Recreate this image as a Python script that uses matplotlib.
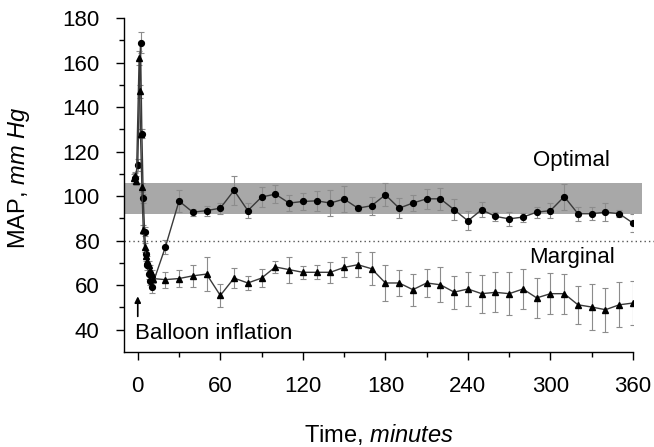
import matplotlib
matplotlib.use("Agg")
import matplotlib.pyplot as plt
from matplotlib.patches import Rectangle

plt.rcParams['font.family'] = ['Liberation Sans', 'DejaVu Sans']
plt.rcParams['mathtext.fontset'] = 'custom'
plt.rcParams['mathtext.rm'] = 'Liberation Sans'
plt.rcParams['mathtext.it'] = 'Liberation Sans:italic'

# ---- data ----
opt_time = [-2, 0, 2, 3, 4, 5, 6, 7, 8, 9, 10,
            20, 30, 40, 50, 60, 70, 80, 90, 100, 110, 120, 130, 140, 150, 160, 170,
            180, 190, 200, 210, 220, 230, 240, 250, 260, 270, 280, 290, 300, 310,
            320, 330, 340, 350, 360]
opt_map = [108, 114, 169, 128, 99, 84, 74, 69, 65, 62, 59,
           77, 97.8, 92.8, 93.5, 94.6, 102.6, 93.5, 99.6, 100.9, 96.9, 97.6, 97.9,
           96.9, 98.7, 94.6, 95.7, 100.6, 94.6, 96.9, 98.8, 98.8, 93.9, 88.9, 93.9,
           90.9, 89.8, 90.6, 92.8, 93.5, 99.8, 92.1, 92.1, 92.8, 92.1, 87.9]
opt_err = [2.5, 2.5, 4.6, 2, 2, 2, 2, 2, 2, 2, 2.5,
           3.2, 5.0, 1.5, 2.2, 2.5, 6.6, 3.4, 4.3, 3.9, 3.6, 4.0, 4.5, 5.7, 5.7,
           1.3, 4.1, 5.2, 4.5, 3.7, 4.5, 4.9, 4.6, 4.3, 3.3, 2.2, 3.1, 2.0, 2.5,
           3.3, 5.8, 3.2, 3.0, 4.0, 1.5, 4.1]

mar_time = [-3, -2, -1, 1, 1.5, 2, 3, 4, 5, 6, 7, 8, 9, 10, 11,
            20, 30, 40, 50, 60, 70, 80, 90, 100, 110, 120, 130, 140, 150, 160, 170,
            180, 190, 200, 210, 220, 230, 240, 250, 260, 270, 280, 290, 300, 310,
            320, 330, 340, 350, 360]
mar_map = [108, 109, 107, 162, 147, 128, 104, 85, 77, 73, 71, 69, 67, 65, 63,
           62.5, 63.0, 64.2, 65.0, 55.4, 63.2, 61.0, 63.2, 68.2, 67.0, 65.8, 65.8,
           65.8, 68.0, 69.2, 67.4, 61.0, 61.0, 58.0, 61.0, 60.2, 56.9, 58.3, 56.2,
           56.8, 56.2, 58.3, 54.3, 56.2, 56.2, 51.2, 50.2, 49.0, 51.2, 52.0]
mar_err = [2, 2, 2, 3, 3, 2, 2, 2, 2, 2, 2, 2, 2, 2, 2,
           3.6, 3.7, 5.0, 7.6, 5.0, 4.5, 3.0, 4.0, 2.6, 5.8, 3.0, 3.1, 4.7, 4.5,
           5.5, 7.5, 8.2, 5.7, 7.2, 6.1, 7.8, 7.4, 7.6, 8.5, 9.0, 9.6, 9.2, 9.0,
           9.1, 9.0, 8.4, 10.2, 9.9, 10.1, 10.0]

x_ticks = [0, 60, 120, 180, 240, 300, 360]
y_ticks = [40, 60, 80, 100, 120, 140, 160, 180]
BAND_LOW, BAND_HIGH = 92, 106
BAND_X0, BAND_X1 = -10, 366.5
THRESHOLD = 80

# ---- figure ----
fig = plt.figure(figsize=(6.54, 4.47), dpi=100)
ax = fig.add_axes([0.1896, 0.2125, 0.7783, 0.7472])
ax.set_xlim(-10, 360)
ax.set_ylim(30, 180)

ax.add_patch(Rectangle((BAND_X0, BAND_LOW), BAND_X1 - BAND_X0, BAND_HIGH - BAND_LOW,
                       facecolor='#a8a8a8', edgecolor='none', clip_on=False, zorder=1))
ax.plot([-10, 376], [THRESHOLD, THRESHOLD], linestyle=(0, (1, 2.2)), color='#555555',
        lw=1.0, clip_on=False, zorder=1.5)

for t, v, e, mk in [(opt_time, opt_map, opt_err, 'o'), (mar_time, mar_map, mar_err, '^')]:
    ax.errorbar(t, v, yerr=e, fmt='none', ecolor='#8c8c8c', elinewidth=0.8,
                capsize=2, capthick=0.8, zorder=2)
    ax.plot(t, v, color='#3a3a3a', lw=1.0, marker=mk, ms=4.2, mfc='black',
            mec='black', zorder=3)

ax.text(287, 113.6, 'Optimal', fontsize=16, ha='left', va='baseline')
ax.text(284.4, 70.1, 'Marginal', fontsize=16, ha='left', va='baseline')
ax.text(-2.2, 36, 'Balloon inflation', fontsize=16, ha='left', va='baseline')
ax.annotate('', xy=(0, 55), xytext=(0, 46),
            arrowprops=dict(arrowstyle='-|>', color='black', lw=1.2,
                            mutation_scale=9, shrinkA=0, shrinkB=0))

ax.spines['top'].set_visible(False)
ax.spines['right'].set_visible(False)
ax.spines['left'].set_linewidth(1.0)
ax.spines['bottom'].set_linewidth(1.0)

ax.set_xticks(x_ticks)
ax.set_xticks([30, 90, 150, 210, 270, 330], minor=True)
ax.set_yticks(y_ticks)
ax.set_yticks([50, 70, 90, 110, 130, 150, 170], minor=True)
ax.tick_params(which='major', length=5.5, width=1.0, labelsize=16, pad=12)
ax.tick_params(which='minor', length=3.5, width=1.0)

ax.set_xlabel(r'Time, $\mathit{minutes}$', fontsize=17)
ax.set_ylabel(r'MAP, $\mathit{mm\ Hg}$', fontsize=17)
ax.xaxis.set_label_coords(0.5, -0.21)
ax.yaxis.set_label_coords(-0.18, 0.52)

fig.savefig('out.png', dpi=100)
